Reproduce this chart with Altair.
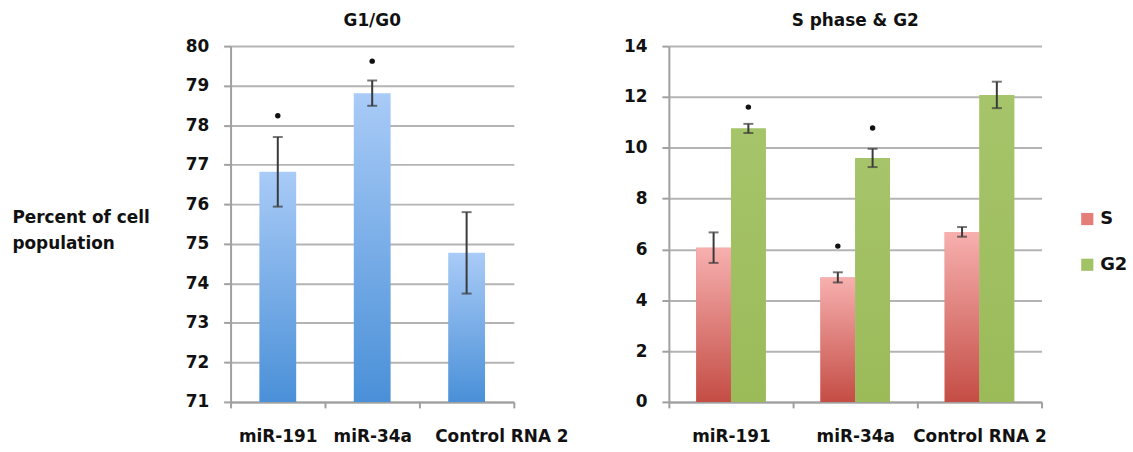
import altair as alt
import pandas as pd

# ---------------- data ----------------
categories = ["miR-191", "miR-34a", "Control RNA 2"]

g1_values = [76.82, 78.81, 74.77]
g1_errors = [0.88, 0.32, 1.03]
g1_marks = [78.24, 79.62, None]

series_names = ["S", "G2"]
s_values = [6.07, 4.90, 6.69]
s_errors = [0.60, 0.20, 0.19]
s_marks = [None, 6.13, None]
g2_values = [10.76, 9.60, 12.08]
g2_errors = [0.18, 0.36, 0.52]
g2_marks = [11.60, 10.78, None]

left_ticks = list(range(71, 81))
right_ticks = list(range(0, 15, 2))

# ---------------- tables ----------------
df1 = pd.DataFrame({
    "category": categories,
    "value": g1_values,
    "lo": [v - e for v, e in zip(g1_values, g1_errors)],
    "hi": [v + e for v, e in zip(g1_values, g1_errors)],
    "mark": g1_marks,
})

rows = []
for name, vals, errs, marks in [("S", s_values, s_errors, s_marks),
                                ("G2", g2_values, g2_errors, g2_marks)]:
    for c, v, e, m in zip(categories, vals, errs, marks):
        rows.append({"category": c, "series": name, "value": v,
                     "lo": v - e, "hi": v + e, "mark": m})
df2 = pd.DataFrame(rows)

FONT = "DejaVu Sans"
TXT = "#111111"
GRID = "#b4b4b4"
AXC = "#a0a0a0"
ERR = "#3a3a3a"

blue_grad = alt.LinearGradient(
    gradient="linear", x1=0, y1=0, x2=0, y2=1,
    stops=[alt.GradientStop(color="#a9cbf7", offset=0),
           alt.GradientStop(color="#4a90d8", offset=1)])
red_grad = alt.LinearGradient(
    gradient="linear", x1=0, y1=0, x2=0, y2=1,
    stops=[alt.GradientStop(color="#f7b0af", offset=0),
           alt.GradientStop(color="#c44d45", offset=1)])
green_grad = alt.LinearGradient(
    gradient="linear", x1=0, y1=0, x2=0, y2=1,
    stops=[alt.GradientStop(color="#a6c46a", offset=0),
           alt.GradientStop(color="#9bbb59", offset=1)])


def x_axis(offset_control):
    return alt.Axis(
        title=None, labelAngle=0, labelFont=FONT, labelFontSize=17,
        labelFontWeight="bold", labelColor=TXT, tickBand="extent",
        tickSize=6, tickColor=AXC, tickWidth=2, domainColor=AXC,
        domainWidth=2, labelPadding=21, grid=False,
        labelOffset={"condition": {"test": "datum.value === 'Control RNA 2'",
                                   "value": offset_control}, "value": 0})


def y_axis(values, title=None, **kw):
    args = dict(values=values, labelFont=FONT, labelFontSize=17,
                labelFontWeight="bold", labelColor=TXT, tickSize=7,
                tickColor=AXC, tickWidth=2, labelPadding=15,
                gridColor=GRID, gridWidth=2, domainColor=AXC, domainWidth=2)
    args["title"] = title
    args.update(kw)
    return alt.Axis(**args)


# ---------------- left panel ----------------
yl_scale = alt.Scale(domain=[71, 80], zero=False, nice=False)
yl_axis = y_axis(left_ticks, title=["Percent of cell", "population"],
                 titleAngle=0, titleAlign="left", titleBaseline="top",
                 titleX=-220, titleY=164, titleFont=FONT, titleFontSize=17,
                 titleFontWeight="bold", titleColor=TXT, titleLineHeight=27)

xl = alt.X("category:N", sort=categories,
           scale=alt.Scale(paddingInner=0, paddingOuter=0),
           axis=x_axis(35))

base1 = alt.Chart(df1).encode(x=xl)
bars1 = base1.mark_bar(color=blue_grad, width=alt.RelativeBandSize(0.39)).encode(
    y=alt.Y("value:Q", scale=yl_scale, axis=yl_axis), y2=alt.datum(71))
rule1 = base1.mark_rule(color=ERR, strokeWidth=2).encode(
    y=alt.Y("lo:Q", scale=yl_scale, axis=yl_axis), y2="hi:Q")
caplo1 = base1.mark_tick(color=ERR, thickness=2, size=10).encode(
    y=alt.Y("lo:Q", scale=yl_scale, axis=yl_axis))
caphi1 = base1.mark_tick(color=ERR, thickness=2, size=10).encode(
    y=alt.Y("hi:Q", scale=yl_scale, axis=yl_axis))
star1 = base1.mark_point(filled=True, color=TXT, size=30, opacity=1).encode(
    y=alt.Y("mark:Q", scale=yl_scale, axis=yl_axis))

TITLE_OFFSET = -6

left = alt.layer(bars1, rule1, caplo1, caphi1, star1).properties(
    width=285, height=358,
    title=alt.Title("G1/G0", frame="group", baseline="alphabetic",
                    offset=TITLE_OFFSET,
                    font=FONT, fontSize=17, fontWeight="bold", color=TXT))

# ---------------- right panel ----------------
yr_scale = alt.Scale(domain=[0, 14], nice=False)
yr_axis = y_axis(right_ticks)

xr = alt.X("category:N", sort=categories,
           scale=alt.Scale(paddingInner=0, paddingOuter=0),
           axis=x_axis(0))
xo = alt.XOffset("series:N", sort=series_names,
                 scale=alt.Scale(domain=series_names, paddingInner=0,
                                 paddingOuter=0.786))

base2 = alt.Chart(df2).encode(x=xr, xOffset=xo)
legend_bars = base2.mark_bar().encode(
    y=alt.Y("value:Q", scale=yr_scale, axis=yr_axis),
    color=alt.Color("series:N", sort=series_names,
                    scale=alt.Scale(domain=series_names,
                                    range=["#e57d78", "#a2c266"]),
                    legend=alt.Legend(title=None, orient="none",
                                      legendX=412, legendY=165,
                                      symbolType="square", symbolSize=150,
                                      symbolStrokeWidth=0, symbolOpacity=1,
                                      labelFont=FONT, labelFontSize=18,
                                      labelFontWeight="bold", labelColor=TXT,
                                      labelOffset=4, rowPadding=28)))
s_bars = base2.transform_filter(alt.datum.series == "S").mark_bar(
    color=red_grad).encode(y=alt.Y("value:Q", scale=yr_scale, axis=yr_axis))
g_bars = base2.transform_filter(alt.datum.series == "G2").mark_bar(
    color=green_grad).encode(y=alt.Y("value:Q", scale=yr_scale, axis=yr_axis))
rule2 = base2.mark_rule(color=ERR, strokeWidth=2).encode(
    y=alt.Y("lo:Q", scale=yr_scale, axis=yr_axis), y2="hi:Q")
caplo2 = base2.mark_tick(color=ERR, thickness=2, size=10).encode(
    y=alt.Y("lo:Q", scale=yr_scale, axis=yr_axis))
caphi2 = base2.mark_tick(color=ERR, thickness=2, size=10).encode(
    y=alt.Y("hi:Q", scale=yr_scale, axis=yr_axis))
star2 = base2.mark_point(filled=True, color=TXT, size=30, opacity=1).encode(
    y=alt.Y("mark:Q", scale=yr_scale, axis=yr_axis))

right = alt.layer(legend_bars, s_bars, g_bars, rule2, caplo2, caphi2, star2).properties(
    width=375, height=358,
    title=alt.Title("S phase & G2", frame="group", baseline="alphabetic",
                    offset=TITLE_OFFSET, font=FONT, fontSize=17,
                    fontWeight="bold", color=TXT))

chart = alt.hconcat(left, right, spacing=55).resolve_scale(
    color="independent").resolve_legend(color="independent").properties(
    padding={"left": 12, "top": 11, "right": 5, "bottom": 5},
    background="white",
).configure_view(stroke=None)

chart.save("out.html", embed_options={"renderer": "svg", "actions": False})
